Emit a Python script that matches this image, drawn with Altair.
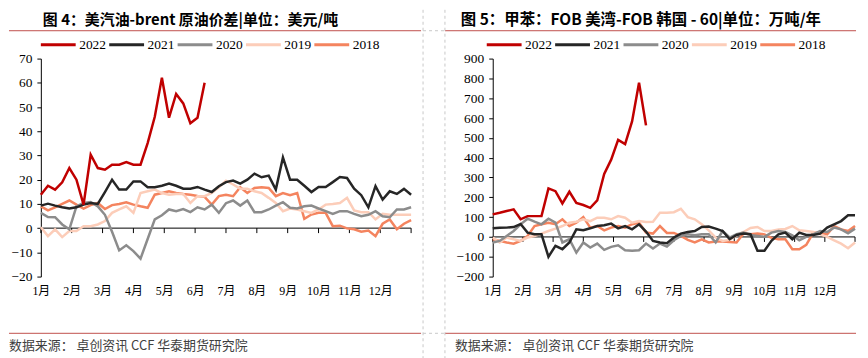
import altair as alt
import pandas as pd

# ---------------- data ----------------
YEARS = ["2022", "2021", "2020", "2019", "2018"]
COLORS = ["#C00000", "#262626", "#8C8C8C", "#FCCDB9", "#F4845F"]
MONTHS = ["1月", "2月", "3月", "4月", "5月", "6月", "7月", "8月", "9月", "10月", "11月", "12月"]

TITLE_LEFT = "图 4：美汽油-brent 原油价差|单位：美元/吨"
TITLE_RIGHT = "图 5：甲苯：FOB 美湾-FOB 韩国 - 60|单位：万吨/年"
SOURCE = "数据来源：  卓创资讯  CCF  华泰期货研究院"

# weekly values, left panel (美元/吨)
gas_2022 = [13.8, 17.5, 15.9, 18.9, 24.8, 20.0, 9.7, 30.3, 24.8, 24.1, 26.2, 26.2, 27.3, 26.2, 26.2,
            35.1, 46.0, 62.1, 45.6, 55.4, 51.5, 43.3, 45.6, 60.0]
gas_2021 = [9.3, 10.1, 9.3, 8.6, 8.1, 8.6, 9.7, 10.4, 10.0, 14.9, 20.0, 15.9, 15.9, 19.3, 19.3, 16.9,
            16.9, 17.5, 18.4, 17.5, 16.3, 16.3, 17.0, 15.9, 14.9, 17.3, 19.0, 19.6, 18.4, 20.0, 22.5,
            21.0, 21.7, 15.9, 29.2, 20.0, 20.0, 17.5, 14.9, 17.0, 17.0, 19.0, 21.1, 20.7, 16.3, 13.6,
            8.6, 17.3, 11.8, 15.2, 14.1, 16.2, 13.8]
gas_2020 = [6.3, 4.6, 4.5, 1.5, -0.5, 9.0, 10.4, 10.8, 9.0, 5.5, -1.5, -9.2, -7.1, -9.5, -12.6, -4.5,
            3.6, 5.3, 7.7, 7.0, 7.9, 6.6, 8.6, 7.7, 9.7, 6.3, 10.3, 11.4, 9.3, 11.4, 6.6, 6.6, 7.7,
            9.3, 10.7, 8.4, 8.1, 9.0, 9.3, 8.1, 7.0, 5.9, 7.0, 7.0, 5.9, 4.9, 5.5, 7.0, 4.9, 4.5,
            7.7, 7.7, 8.6]
gas_2019 = [0.4, -3.3, -0.5, -3.7, -1.2, -1.2, 0.8, 0.8, 1.5, 2.9, 6.3, 7.7, 9.0, 6.3, 14.5, 15.2,
            15.9, 14.5, 13.8, 14.1, 14.1, 10.4, 13.2, 13.2, 14.5, 16.9, 19.6, 18.0, 16.3, 16.3, 15.2,
            14.5, 12.5, 10.4, 7.0, 8.1, 7.7, 7.0, 6.3, 7.7, 9.7, 10.0, 10.4, 12.5, 7.3, 6.6, 6.6,
            3.6, 5.9, 5.5, 5.5, 5.5, 5.5]
gas_2018 = [9.0, 7.3, 8.6, 10.0, 11.4, 9.7, 8.1, 9.5, 10.4, 7.9, 9.5, 10.0, 10.7, 9.7, 9.0, 8.4,
            13.8, 14.5, 15.2, 14.5, 14.1, 13.8, 13.3, 12.9, 9.7, 13.2, 13.8, 13.2, 16.9, 14.5, 16.6,
            16.9, 16.6, 13.2, 14.5, 13.6, 14.5, 3.8, 5.6, 6.3, 6.3, 0.8, 1.0, -0.1, -0.5, -1.5,
            -1.0, -3.3, 1.8, 3.6, -0.5, 1.8, 3.3]

# weekly values, right panel
tol_2022 = [114, 122, 131, 139, 89, 105, 105, 105, 245, 231, 169, 228, 172, 161, 147, 184, 318,
            390, 490, 469, 583, 778, 563]
tol_2021 = [43.5, 46.9, 47, 50, 65, 21.6, 13.4, 13.4, -100, -45, -62, -28, 38.5, 33.5, 43.5, 55,
            58.6, 67, 43.5, 55, 38.5, 63.6, 26.8, -20, -28, -31.8, -3, 16.7, 25, 30, 50, 52, 42,
            30, -11.7, 10, 16.7, 13.4, -70, -70, -20, 13.4, 21.6, -11.7, 21.6, 10, 10, 16.7, 46.9,
            63.6, 80, 109, 109]
tol_2020 = [-28, -20, 5, 30, 63.6, 92, 77, 63.6, 92, 72, -28, -11.7, -79, -28, -53.6, -33.6, -65,
            -50, -42, -67, -70, -67, -33.6, -58.6, -33.6, -48.6, -16.7, 5, 13.4, 8.4, 13.4, 13.4,
            -28, 30, -3, 13.4, 21.6, 10, 5, 0, 21.6, 30, 25, 8.4, -16.7, 0, 13.4, 30, 25, 47,
            38.5, 18.4, 42]
tol_2019 = [-3, -28, -3, -12, -20, -3, 5, 17, 30, 42, 55, 72, 77, 89, 80, 97, 97, 89, 105, 97, 72,
            80, 75, 77, 122, 122, 125, 142, 100, 89, 64, 33, -3, -20, -15, 8, 25, 45, 50, 30, 30,
            38, 40, 55, 34, 30, 25, 13, 0, -17, -34, -57, -28]
tol_2018 = [-12, -20, -28, -34, -20, 5, 55, 64, 72, 64, 89, 55, 72, 100, 47, 55, 33, 47, 55, 47,
            64, 72, 22, 17, 55, 20, 20, 5, -15, -28, -12, -28, -23, -23, -25, -28, 17, 13, 17, 13,
            -5, -12, -12, -62, -62, -40, 21, 21, 13, 55, 38, 30, 55]

# ---------------- helpers ----------------
WEEKS = 52
MONTH_POS = [k * WEEKS / 12 for k in range(13)]
LABEL_EXPR = "[" + ",".join("'%s'" % m for m in MONTHS) + "][round(datum.value*12/52)]"

NUM_FONT = "Liberation Serif"
MONTH_FONT = "Liberation Serif, Noto Sans CJK SC"
CJK_FONT = "Noto Sans CJK SC"
RED_LINE = "#C0504D"
DASH = "#C8C8C8"


def long_df(d):
    rows = []
    for y in ["2018", "2019", "2020", "2021", "2022"]:
        for i, v in enumerate(d[y]):
            rows.append({"week": i, "value": v, "year": y})
    return pd.DataFrame(rows)


def one(text=""):
    return pd.DataFrame({"t": [text]})


def hrule(x0, x1, y, color, dash=None, width=1):
    kw = dict(color=color, strokeWidth=width)
    if dash:
        kw["strokeDash"] = dash
    return alt.Chart(one()).mark_rule(**kw).encode(
        x=alt.value(x0), x2=alt.value(x1), y=alt.value(y))


def vrule(x, y0, y1, color, dash=None):
    kw = dict(color=color, strokeWidth=1)
    if dash:
        kw["strokeDash"] = dash
    return alt.Chart(one()).mark_rule(**kw).encode(
        x=alt.value(x), y=alt.value(y0), y2=alt.value(y1))


def text_at(txt, x, y, **kw):
    return alt.Chart(one(txt)).mark_text(**kw).encode(
        x=alt.value(x), y=alt.value(y), text="t:N")


def legend_layers(x0):
    out = []
    for k, (yr, col) in enumerate(zip(YEARS, COLORS)):
        sx = x0 + k * 68.7
        out.append(hrule(sx, sx + 35, -14, col, width=3))
        out.append(text_at(yr, sx + 38.5, -14, align="left", baseline="middle", font=NUM_FONT,
                           fontSize=13.5, color="black"))
    return out


def panel(df, ydom, ystep, tick_units, width, legend_x, title, title_x, title_size, src_x,
          line_x0, line_x1, extra):
    xs = alt.Scale(domain=[0, WEEKS], nice=False, zero=False)
    ys = alt.Scale(domain=ydom, nice=False, zero=False)
    xaxis = alt.Axis(values=MONTH_POS[:12], labelExpr=LABEL_EXPR, domain=False, ticks=False,
                     tickSize=0, grid=False, labelFont=MONTH_FONT, labelFontSize=12,
                     labelColor="black", labelPadding=9, title=None, labelAngle=0,
                     labelOverlap=False, labelFlush=False)
    yaxis = alt.Axis(values=list(range(ydom[0], ydom[1] + 1, ystep)), grid=False,
                     domainColor="black", tickColor="black", tickSize=4, labelFont=NUM_FONT,
                     labelFontSize=13.5, labelColor="black", labelPadding=5, title=None,
                     labelFlush=False, labelOverlap=False)

    lines = alt.Chart(df).mark_line(strokeWidth=2.5).encode(
        x=alt.X("week:Q", scale=xs, axis=xaxis),
        y=alt.Y("value:Q", scale=ys, axis=yaxis),
        color=alt.Color("year:N", scale=alt.Scale(domain=YEARS, range=COLORS), legend=None),
    )
    zero = alt.Chart(pd.DataFrame({"week": [0], "week2": [WEEKS], "value": [0]})).mark_rule(
        color="black", strokeWidth=1).encode(
        x=alt.X("week:Q", scale=xs, axis=xaxis), x2="week2:Q",
        y=alt.Y("value:Q", scale=ys, axis=yaxis))
    ticks = alt.Chart(pd.DataFrame({"week": MONTH_POS, "value": [0] * 13,
                                    "value2": [-tick_units] * 13})).mark_rule(
        color="black", strokeWidth=1).encode(
        x=alt.X("week:Q", scale=xs, axis=xaxis),
        y=alt.Y("value:Q", scale=ys, axis=yaxis), y2="value2:Q")

    deco = [
        text_at(title, title_x, -33.5, align="left", baseline="alphabetic", font=CJK_FONT,
                fontSize=title_size, fontWeight="bold", color="black"),
        hrule(line_x0, line_x1, -28, RED_LINE),
        hrule(line_x0, line_x1, 276, RED_LINE),
        text_at(SOURCE, src_x, 289, align="left", baseline="middle", font=CJK_FONT,
                fontSize=13, color="#404040"),
    ] + legend_layers(legend_x)
    return alt.layer(ticks, zero, lines, *deco, *extra).properties(width=width, height=219)


left_df = long_df({"2022": gas_2022, "2021": gas_2021, "2020": gas_2020,
                   "2019": gas_2019, "2018": gas_2018})
right_df = long_df({"2022": tol_2022, "2021": tol_2021, "2020": tol_2020,
                    "2019": tol_2019, "2018": tol_2018})

left_extra = [vrule(-32, -49, -48, "white")]
left = panel(left_df, [-20, 70], 10, 5 / (219 / 90), 372, 0, TITLE_LEFT, 2, 15, -32, -32, 382,
             left_extra)

right_extra = [
    vrule(-70, -49, 301, DASH, [3, 3]),
    vrule(-48, -49, 301, DASH, [3, 3]),
    hrule(-70, -48, -28, DASH, [3, 3]),
    hrule(-70, -48, 276, DASH, [3, 3]),
]
right = panel(right_df, [-200, 900], 100, 5 / (219 / 1100), 364, -6, TITLE_RIGHT, -32, 15.5, -38,
              -48, 365, right_extra)

chart = alt.hconcat(left, right, spacing=0).resolve_scale(color="independent").properties(
    padding=0, background="white").configure_view(strokeWidth=0)

chart.save("out.html", embed_options={"renderer": "svg", "actions": False})
